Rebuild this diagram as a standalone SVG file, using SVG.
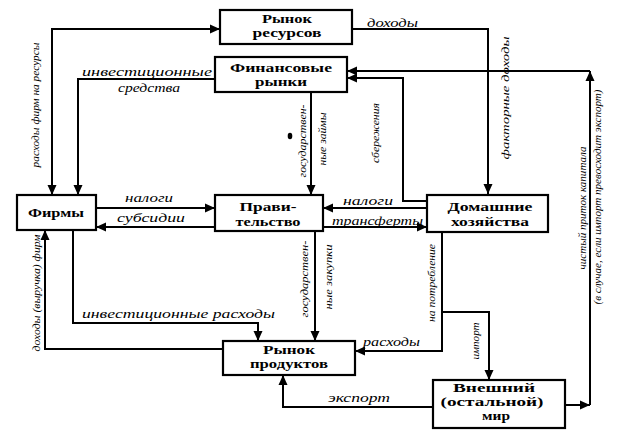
<svg xmlns="http://www.w3.org/2000/svg" width="624" height="441" viewBox="0 0 624 441">
<style>
.box{fill:#fff;stroke:#000;stroke-width:2.2}
.bt{font-family:'Liberation Serif',serif;font-weight:bold;font-size:12px;text-anchor:middle;fill:#000}
.lb{font-family:'Liberation Serif',serif;font-style:italic;font-size:13px;fill:#000}
.vt{font-family:'Liberation Serif',serif;font-style:italic;font-size:11px;text-anchor:middle;fill:#000}
.ln{fill:none;stroke:#000;stroke-width:2;marker-end:url(#ah)}
</style>
<defs>
<marker id="ah" viewBox="0 0 10 10" refX="10" refY="5" markerWidth="10" markerHeight="10" markerUnits="userSpaceOnUse" orient="auto-start-reverse">
<path d="M0,0.5 L10,5 L0,9.5 z" fill="#000"/>
</marker>
</defs>
<rect width="624" height="441" fill="#fff"/>
<g id="connectors">
<path class="ln" d="M52,195 V29 H220" marker-start="url(#ah)"/>
<path class="ln" d="M352,29 H488 V194"/>
<path class="ln" d="M215,79 H78 V195"/>
<path class="ln" d="M311,92 V195"/>
<path class="ln" d="M427,201 H403 V78 H347"/>
<path class="ln" d="M565,405 H590"/>
<path class="ln" d="M590,405 V71"/>
<path class="ln" d="M590,71 H347"/>
<path class="ln" d="M96,208 H215"/>
<path class="ln" d="M215,227 H96"/>
<path class="ln" d="M427,208 H323"/>
<path class="ln" d="M323,227 H427"/>
<path class="ln" d="M223,349 H45 V230"/>
<path class="ln" d="M73,230 V323 H258 V341"/>
<path class="ln" d="M315,231 V341"/>
<path class="ln" d="M442,232 V351 H355"/>
<path class="ln" d="M442,312 H489 V380"/>
<path class="ln" d="M433,407 H283 V375"/>
<ellipse cx="290" cy="136" rx="2.3" ry="3.3" fill="#000"/>
</g>
<g id="labels">
<text class="lb" x="367" y="27" textLength="51" lengthAdjust="spacingAndGlyphs">доходы</text>
<text class="lb" x="82" y="76" textLength="130" lengthAdjust="spacingAndGlyphs">инвестиционные</text>
<text class="lb" x="118" y="92" textLength="62" lengthAdjust="spacingAndGlyphs">средства</text>
<text class="lb" x="125" y="202" textLength="48" lengthAdjust="spacingAndGlyphs">налоги</text>
<text class="lb" x="117" y="222" textLength="68" lengthAdjust="spacingAndGlyphs">субсидии</text>
<text class="lb" x="343" y="205" textLength="50" lengthAdjust="spacingAndGlyphs">налоги</text>
<text class="lb" x="332" y="225" textLength="91" lengthAdjust="spacingAndGlyphs">трансферты</text>
<text class="lb" x="82" y="318" textLength="193" lengthAdjust="spacingAndGlyphs">инвестиционные расходы</text>
<text class="lb" x="363" y="346" textLength="57" lengthAdjust="spacingAndGlyphs">расходы</text>
<text class="lb" x="328" y="402" textLength="62" lengthAdjust="spacingAndGlyphs">экспорт</text>
<text class="vt" transform="translate(39,105) rotate(-90)" textLength="125" lengthAdjust="spacingAndGlyphs">расходы фирм на ресурсы</text>
<text class="vt" transform="translate(40,293) rotate(-90)" textLength="117" lengthAdjust="spacingAndGlyphs">доходы (выручка) фирм</text>
<text class="vt" transform="translate(306,141) rotate(-90)" textLength="73" lengthAdjust="spacingAndGlyphs">государствен-</text>
<text class="vt" transform="translate(326,139) rotate(-90)" textLength="53" lengthAdjust="spacingAndGlyphs">ные займы</text>
<text class="vt" transform="translate(379,133) rotate(-90)" textLength="60" lengthAdjust="spacingAndGlyphs">сбережения</text>
<text class="vt" transform="translate(509,98) rotate(-90)" textLength="123" lengthAdjust="spacingAndGlyphs">факторные доходы</text>
<text class="vt" transform="translate(308,279) rotate(-90)" textLength="77" lengthAdjust="spacingAndGlyphs">государствен-</text>
<text class="vt" transform="translate(332,277) rotate(-90)" textLength="65" lengthAdjust="spacingAndGlyphs">ные закупки</text>
<text class="vt" transform="translate(435,283) rotate(-90)" textLength="78" lengthAdjust="spacingAndGlyphs">на потребление</text>
<text class="vt" transform="translate(479,341) rotate(-90)" textLength="37" lengthAdjust="spacingAndGlyphs">импорт</text>
<text class="vt" transform="translate(586,208) rotate(-90)" textLength="123" lengthAdjust="spacingAndGlyphs">чистый приток капитала</text>
<text class="vt" transform="translate(601,197) rotate(-90)" textLength="215" lengthAdjust="spacingAndGlyphs">(в случае, если импорт превосходит экспорт)</text>
</g>
<g id="resource-market">
<rect class="box" x="220" y="10" width="132" height="34"/>
<text class="bt" x="287" y="23" textLength="50" lengthAdjust="spacingAndGlyphs">Рынок</text>
<text class="bt" x="287" y="37" textLength="69" lengthAdjust="spacingAndGlyphs">ресурсов</text>
</g>
<g id="financial-markets">
<rect class="box" x="215" y="57" width="132" height="35"/>
<text class="bt" x="281" y="72" textLength="102" lengthAdjust="spacingAndGlyphs">Финансовые</text>
<text class="bt" x="281" y="86" textLength="52" lengthAdjust="spacingAndGlyphs">рынки</text>
</g>
<g id="firms">
<rect class="box" x="17" y="195" width="79" height="35"/>
<text class="bt" x="56" y="217" textLength="56" lengthAdjust="spacingAndGlyphs">Фирмы</text>
</g>
<g id="government">
<rect class="box" x="215" y="195" width="108" height="36"/>
<text class="bt" x="268" y="211" textLength="57" lengthAdjust="spacingAndGlyphs">Прави-</text>
<text class="bt" x="268" y="226" textLength="65" lengthAdjust="spacingAndGlyphs">тельство</text>
</g>
<g id="households">
<rect class="box" x="427" y="195" width="121" height="37"/>
<text class="bt" x="490" y="211" textLength="85" lengthAdjust="spacingAndGlyphs">Домашние</text>
<text class="bt" x="490" y="226" textLength="78" lengthAdjust="spacingAndGlyphs">хозяйства</text>
</g>
<g id="product-market">
<rect class="box" x="223" y="341" width="132" height="34"/>
<text class="bt" x="289" y="354" textLength="52" lengthAdjust="spacingAndGlyphs">Рынок</text>
<text class="bt" x="289" y="368" textLength="78" lengthAdjust="spacingAndGlyphs">продуктов</text>
</g>
<g id="rest-of-world">
<rect class="box" x="433" y="380" width="132" height="48"/>
<text class="bt" x="494" y="392" textLength="82" lengthAdjust="spacingAndGlyphs">Внешний</text>
<text class="bt" x="492" y="406" textLength="103" lengthAdjust="spacingAndGlyphs">(остальной)</text>
<text class="bt" x="496" y="420" textLength="28" lengthAdjust="spacingAndGlyphs">мир</text>
</g>
</svg>
